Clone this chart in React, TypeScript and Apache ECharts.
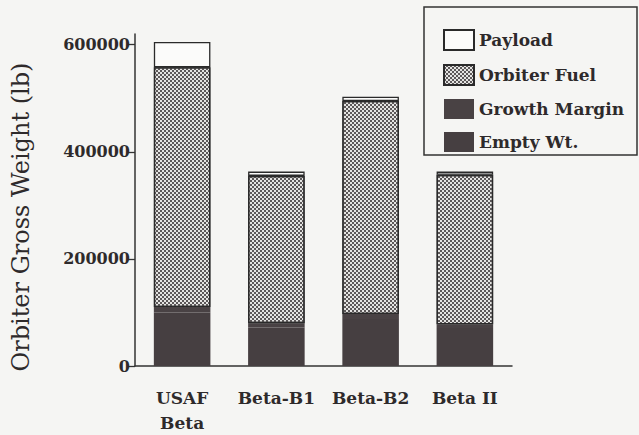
import React, { useEffect, useRef } from "react";
import * as echarts from "echarts";

const categories = ["USAF\nBeta", "Beta-B1", "Beta-B2", "Beta II"];
const emptyWt = [100000, 72000, 88000, 71000];
const growthMargin = [10000, 8000, 9000, 7000];
const orbiterFuel = [448000, 275000, 398000, 279000];
const payload = [47000, 8000, 8000, 6000];
const yTicks = [0, 200000, 400000, 600000];
const legendNames = ["Payload", "Orbiter Fuel", "Growth Margin", "Empty Wt."];

const FONT = "DejaVu Serif";
const INK = "#2e2a2b";

export default function App() {
  const ref = useRef<HTMLDivElement>(null);
  useEffect(() => {
    if (!ref.current) return;
    const chart = echarts.init(ref.current, null, { renderer: "svg" });
    const border = { borderColor: "#2a2a2a", borderWidth: 1.3 };
    const option: any = {
      animation: false,
      backgroundColor: "#f5f5f3",
      textStyle: { fontFamily: FONT },
      grid: { left: 135, right: 127, top: 34, bottom: 68 },
      legend: {
        orient: "vertical",
        left: 438,
        top: 24,
        itemWidth: 30,
        itemHeight: 20,
        itemGap: 13,
        icon: "rect",
        data: legendNames,
        textStyle: {
          fontFamily: FONT,
          fontWeight: "bold",
          fontSize: 17,
          color: INK,
        },
      },
      xAxis: {
        type: "category",
        data: categories,
        axisTick: { show: false },
        axisLine: { lineStyle: { color: "#333", width: 1.5 } },
        axisLabel: {
          interval: 0,
          fontFamily: FONT,
          fontWeight: "bold",
          fontSize: 17,
          color: INK,
          lineHeight: 25,
          margin: 19,
        },
      },
      yAxis: {
        type: "value",
        min: 0,
        max: 620000,
        splitLine: { show: false },
        axisLine: { show: true, lineStyle: { color: "#333", width: 1.5 } },
        axisTick: {
          show: true,
          length: 7,
          customValues: yTicks,
          lineStyle: { color: "#333", width: 1.3 },
        },
        axisLabel: {
          customValues: yTicks,
          formatter: (v: number) => String(v),
          fontFamily: FONT,
          fontWeight: "bold",
          fontSize: 16,
          color: INK,
          margin: 5,
        },
      },
      series: [
        {
          name: "Empty Wt.",
          type: "bar",
          stack: "w",
          barWidth: "60%",
          data: emptyWt,
          itemStyle: { color: "#463f41", borderColor: "#2a2a2a", borderWidth: 0 },
        },
        {
          name: "Growth Margin",
          type: "bar",
          stack: "w",
          data: growthMargin,
          itemStyle: { color: "#494244", borderColor: "#2a2a2a", borderWidth: 0 },
        },
        {
          name: "Orbiter Fuel",
          type: "bar",
          stack: "w",
          data: orbiterFuel,
          itemStyle: {
            color: "#e4e4e2",
            ...border,
            decal: {
              symbol: "rect",
              symbolSize: 1,
              color: "#5c5859",
              dashArrayX: [
                [2, 2],
                [0, 2, 2, 0],
              ],
              dashArrayY: [2, 0],
            },
          },
        },
        {
          name: "Payload",
          type: "bar",
          stack: "w",
          data: payload,
          itemStyle: { color: "#fbfbfa", ...border },
        },
      ],
      graphic: [
        {
          type: "rect",
          shape: { x: 424, y: 7, width: 213, height: 148 },
          style: { fill: "none", stroke: "#333", lineWidth: 1.5 },
        },
        {
          type: "text",
          x: 21,
          y: 217,
          rotation: Math.PI / 2,
          style: {
            text: "Orbiter Gross Weight (lb)",
            fontFamily: FONT,
            fontSize: 24,
            fill: INK,
            textAlign: "center",
            textVerticalAlign: "middle",
          },
        },
      ],
    };
    chart.setOption(option);
    return () => chart.dispose();
  }, []);
  return (
    <div
      ref={ref}
      style={{ position: "fixed", left: 0, top: 0, width: 639, height: 435 }}
    />
  );
}
